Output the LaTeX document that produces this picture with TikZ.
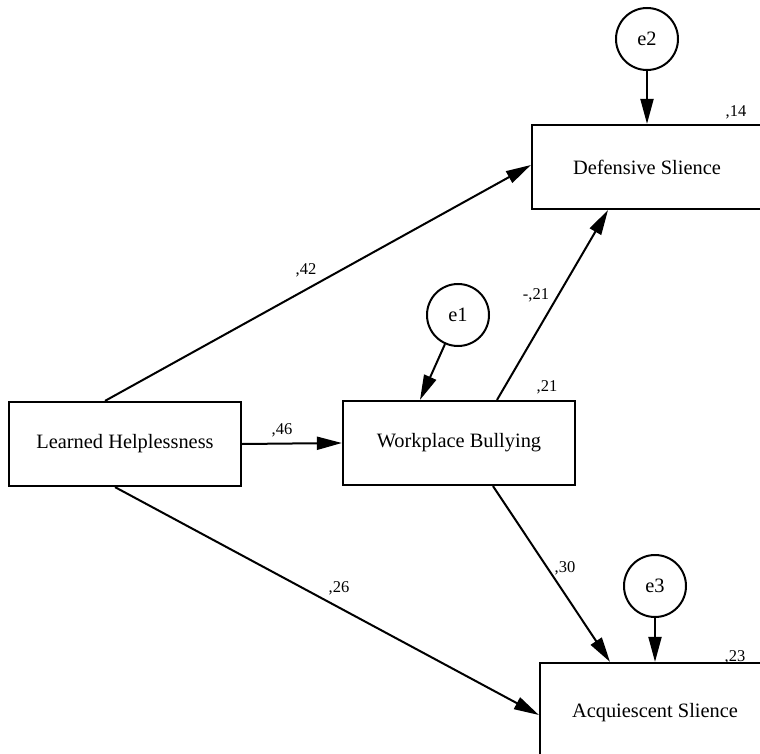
\documentclass[tikz,border=0pt]{standalone}
\usepackage{fontspec}
\setmainfont{Liberation Serif}
\usetikzlibrary{arrows.meta}
\begin{document}
\begin{tikzpicture}[x=1pt,y=-1pt,
  box/.style={draw, line width=2.2pt, inner sep=0pt, font=\fontsize{20.4}{24}\selectfont},
  errc/.style={draw, circle, line width=2pt, minimum size=62pt, inner sep=0pt, font=\fontsize{20.4}{24}\selectfont},
  conn/.style={line width=2pt, -{Triangle[length=25pt,width=13pt]}},
  lbl/.style={inner sep=0pt, font=\fontsize{16.5}{19}\selectfont}]
\clip (0,0) rectangle (760,754);
\fill[white] (0,0) rectangle (760,754);
% boxes
\node[box, minimum width=230pt, minimum height=84pt] (DS) at (647,167) {Defensive Slience};
\node[box, minimum width=232pt, minimum height=84pt] (LH) at (125,444) {Learned Helplessness};
\node[box, minimum width=232pt, minimum height=84pt] (WB) at (459,443) {Workplace Bullying};
\node[box, minimum width=230pt, minimum height=100pt] (AS) at (655,713) {Acquiescent Slience};
% error terms
\node[errc] (e2) at (647,39) {e2};
\node[errc] (e1) at (458,315) {e1};
\node[errc] (e3) at (655,586) {e3};
% paths
\draw[conn] ([xshift=-20pt]LH.north) -- ([yshift=2pt]DS.west);
\draw[conn] (LH.east) -- (WB.west);
\draw[conn] ([xshift=-10pt]LH.south) -- ([yshift=-2pt]AS.west);
\draw[conn] ([xshift=38pt]WB.north) -- ([xshift=-39pt]DS.south);
\draw[conn] ([xshift=34pt]WB.south) -- ([xshift=-45pt]AS.north);
\draw[conn] (e1) -- ([xshift=-39pt]WB.north);
\draw[conn] (e2) -- (DS.north);
\draw[conn] (e3) -- (AS.north);
% labels
\node[lbl] (l42) at (306,270) {,42};
\node[lbl] (l46) at (282,430) {,46};
\node[lbl] (l26) at (339,588) {,26};
\node[lbl] (lm21) at (536,295) {-,21};
\node[lbl] (l21) at (547,387) {,21};
\node[lbl] (l30) at (565,568) {,30};
\node[lbl] (l14) at (736,112) {,14};
\node[lbl] (l23) at (735,657) {,23};
\end{tikzpicture}
\end{document}
